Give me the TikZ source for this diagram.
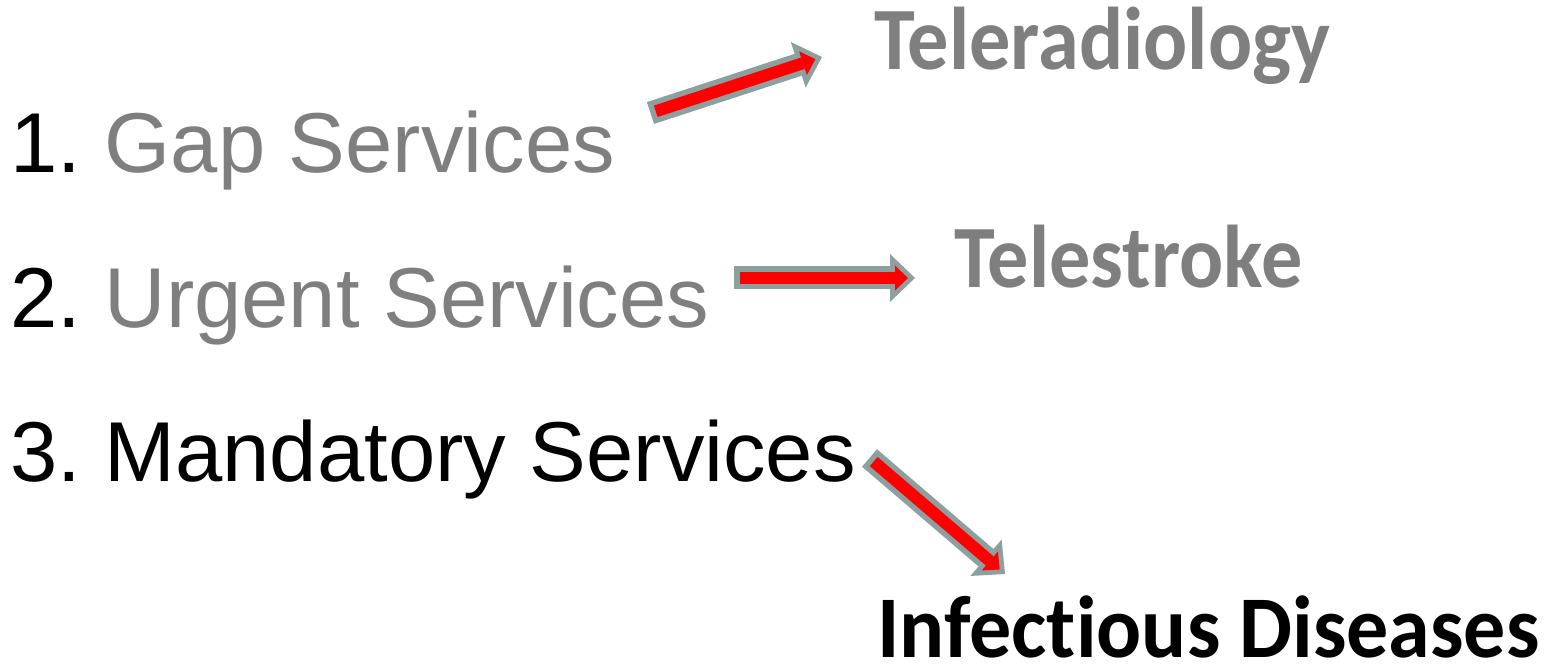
\documentclass[tikz,border=0pt]{standalone}
\usepackage{fontspec}
\usepackage{xcolor}
\usetikzlibrary{arrows.meta}
\setmainfont{Liberation Sans}
\newfontfamily\calibrib[FakeStretch=0.925, Ligatures={NoCommon}]{Carlito}
\newfontfamily\calibribwide[FakeStretch=0.955, Ligatures={NoCommon}]{Carlito}
\frenchspacing

\definecolor{txtgray}{RGB}{127,127,127}
\definecolor{rimgray}{RGB}{140,160,160}

\begin{document}
\begin{tikzpicture}[x=1pt, y=-1pt,
    item/.style={anchor=base west, inner sep=0pt, font=\fontsize{85}{100}\selectfont},
    target/.style={anchor=base west, inner sep=0pt, text depth=0pt, font=\calibrib\bfseries\fontsize{89}{100}\selectfont},
    rim/.style={draw=rimgray, line width=23pt, -{Triangle[length=25pt, width=48pt, line width=0pt]}},
    core/.style={draw=red, line width=12pt, shorten <=5.5pt, shorten >=7pt, -{Triangle[length=13pt, width=25pt, line width=0pt]}}
]
    \useasboundingbox (0,0) rectangle (1566,668);

    % Service types
    \node[item] (gap) at (10,172.7) {1. \textcolor{txtgray}{Gap Services}};
    \node[item] (urgent) at (10,327) {2. \textcolor{txtgray}{Urgent Services}};
    \node[item] (mandatory) at (10,481.3) {3. Mandatory Services};

    % Telemedicine services
    \node[target, text=txtgray] (radio) at (874,69.3) {Teleradiology};
    \node[target, text=txtgray] (stroke) at (954,288) {Telestroke};
    \node[target, font=\calibribwide\bfseries\fontsize{88}{100}\selectfont] (infect) at (877,657) {Infectious Diseases};

    % Arrow ends
    \coordinate (gapout) at (650.5,113);
    \coordinate (radioin) at (822,57);
    \coordinate (urgentout) at (734,278);
    \coordinate (strokein) at (915,278);
    \coordinate (mandout) at (869.5,458);
    \coordinate (infectin) at (1005,574);

    % Arrows
    \draw[rim] (gapout) -- (radioin);
    \draw[core] (gapout) -- (radioin);
    \draw[rim] (urgentout) -- (strokein);
    \draw[core] (urgentout) -- (strokein);
    \draw[rim] (mandout) -- (infectin);
    \draw[core] (mandout) -- (infectin);
\end{tikzpicture}
\end{document}
